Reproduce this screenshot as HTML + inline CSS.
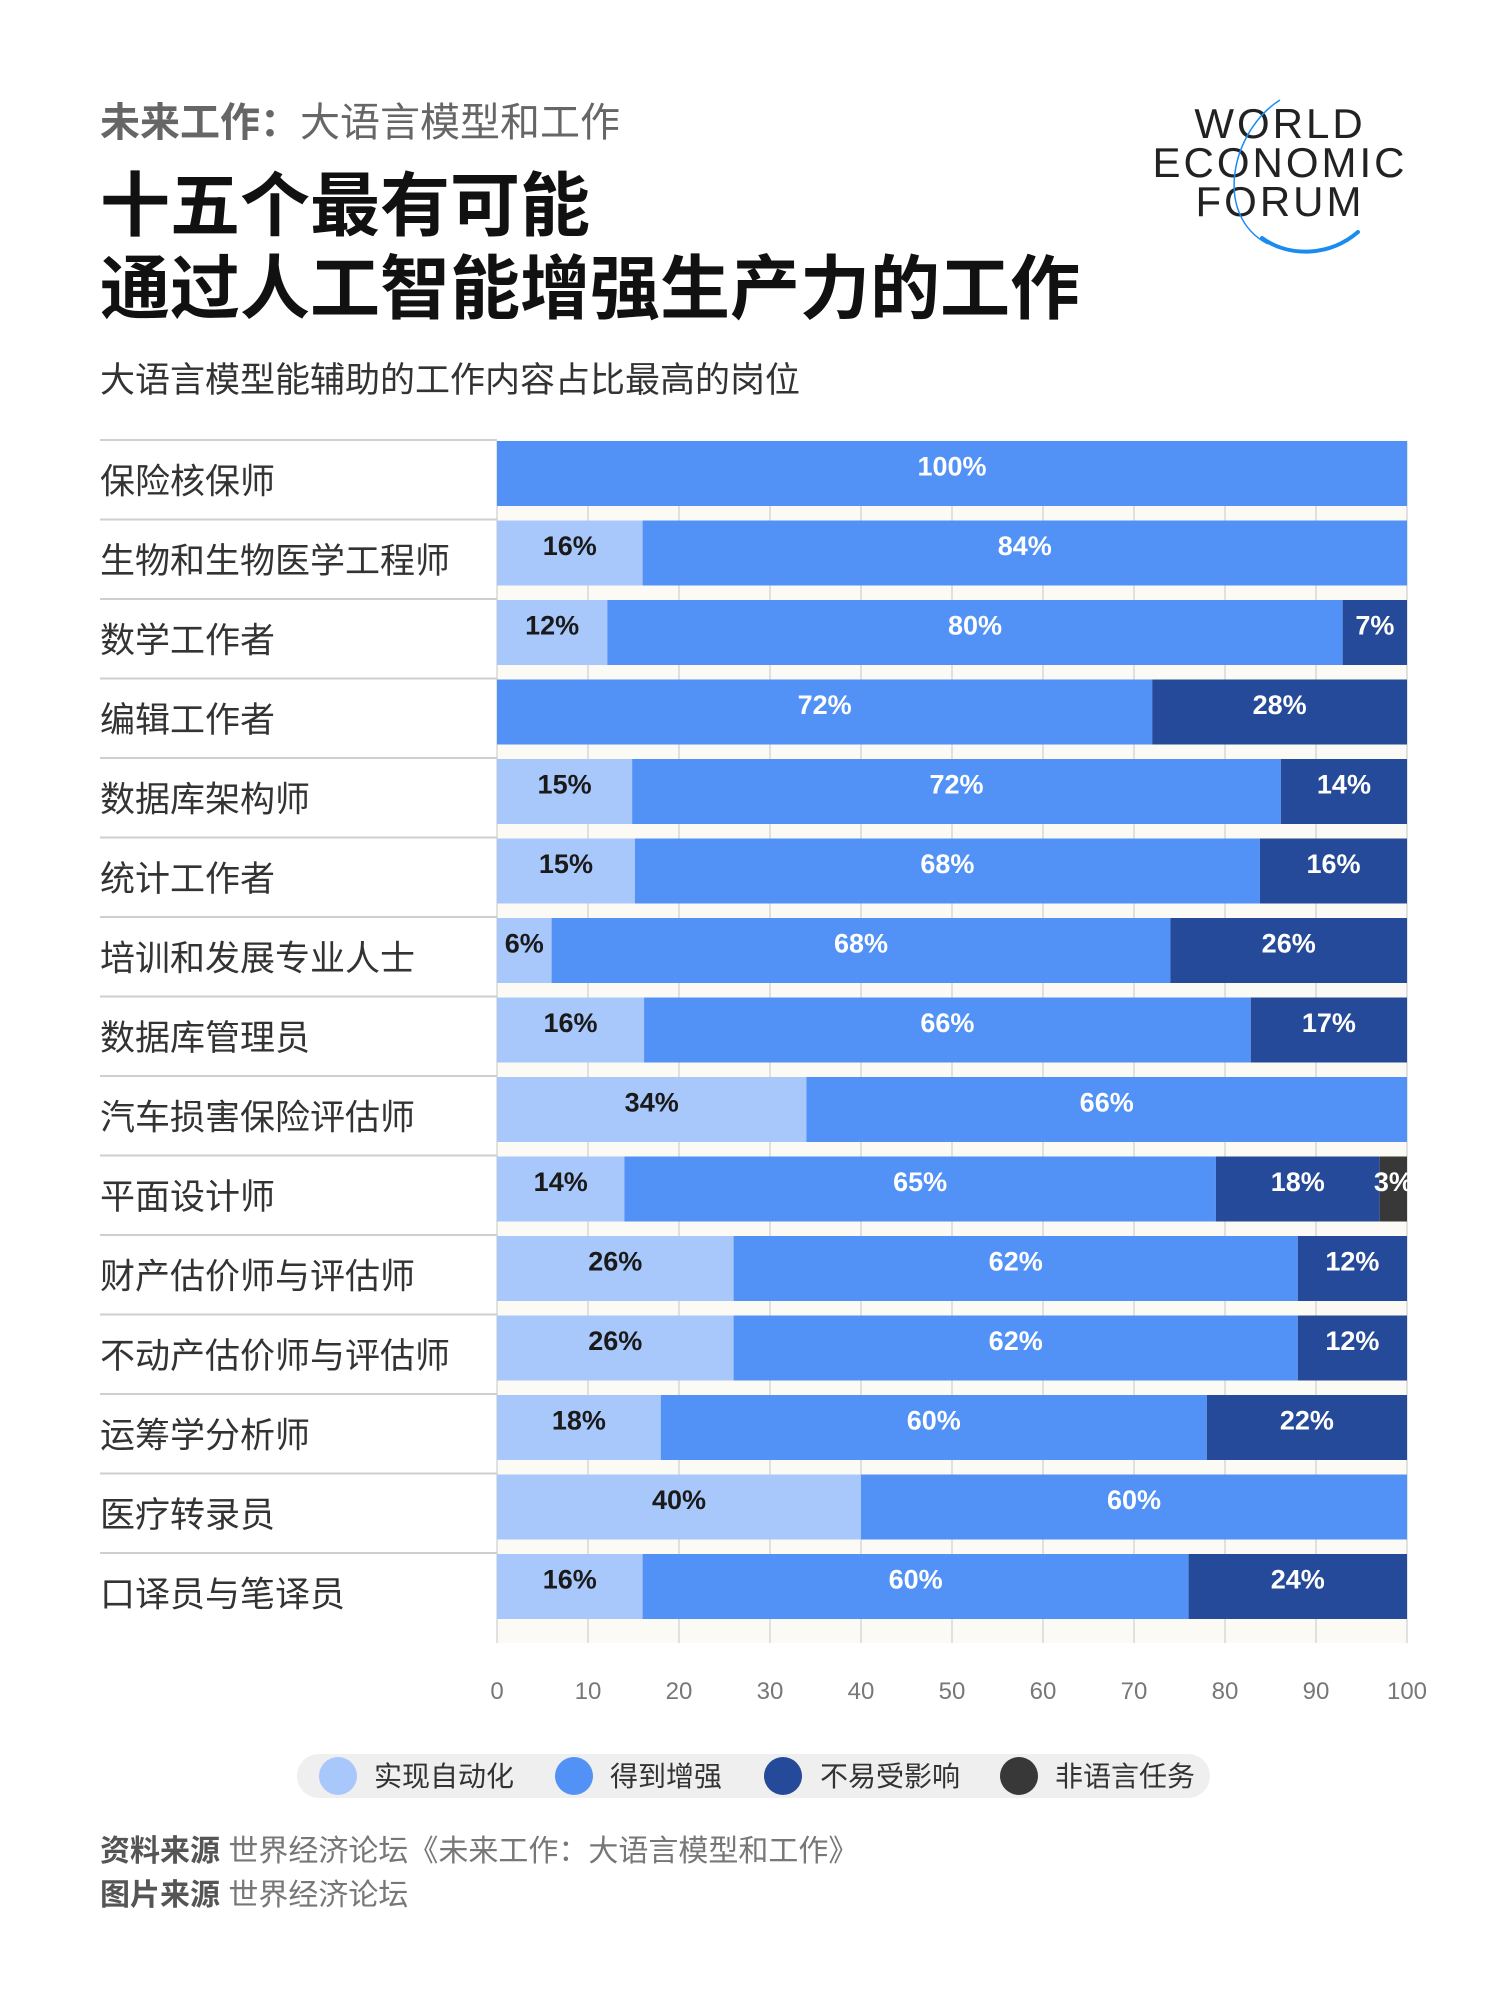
<!DOCTYPE html>
<html><head><meta charset="utf-8">
<style>
html,body{margin:0;padding:0;background:#fff;}
svg{display:block;}
text{font-family:"Liberation Sans","Noto Sans CJK SC",sans-serif;}
</style></head>
<body>
<svg id="chart" width="1500" height="2000" viewBox="0 0 1500 2000" xmlns="http://www.w3.org/2000/svg">
<rect width="1500" height="2000" fill="#fff"/>
<text x="100" y="136" font-size="40" fill="#666"><tspan font-weight="bold">未来工作：</tspan>大语言模型和工作</text>
<text x="100" y="230" font-size="70" font-weight="bold" fill="#111">十五个最有可能</text>
<text x="100" y="313" font-size="70" font-weight="bold" fill="#111">通过人工智能增强生产力的工作</text>
<text x="100" y="392" font-size="35" fill="#333">大语言模型能辅助的工作内容占比最高的岗位</text>
<g>
<text x="1280" y="138" font-size="42" text-anchor="middle" letter-spacing="3" fill="#222">WORLD</text>
<text x="1280" y="177" font-size="42" text-anchor="middle" letter-spacing="3" fill="#222">ECONOMIC</text>
<text x="1280" y="216" font-size="42" text-anchor="middle" letter-spacing="3" fill="#222">FORUM</text>
<path d="M1280,100 C1232,130 1212,215 1268,244" stroke="#1a8cf0" stroke-width="1.5" fill="none"/>
<path d="M1262,238 C1290,258 1330,256 1358,232" stroke="#1a8cf0" stroke-width="4" fill="none" stroke-linecap="round"/>
</g>
<g id="plot"></g>
<g>
<rect x="297" y="1754" width="913" height="44" rx="22" fill="#efefef"/>
<circle cx="338" cy="1776" r="19" fill="#a8c8fb"/>
<text x="374" y="1786" font-size="28" fill="#333">实现自动化</text>
<circle cx="574" cy="1776" r="19" fill="#5292f6"/>
<text x="610" y="1786" font-size="28" fill="#333">得到增强</text>
<circle cx="783" cy="1776" r="19" fill="#264a9a"/>
<text x="820" y="1786" font-size="28" fill="#333">不易受影响</text>
<circle cx="1019" cy="1776" r="19" fill="#383838"/>
<text x="1055" y="1786" font-size="28" fill="#333">非语言任务</text>
</g>
<text x="100" y="1861" font-size="30" fill="#777"><tspan font-weight="bold" fill="#555">资料来源</tspan> 世界经济论坛《未来工作：大语言模型和工作》</text>
<text x="100" y="1905" font-size="30" fill="#777"><tspan font-weight="bold" fill="#555">图片来源</tspan> 世界经济论坛</text>
</svg>
<script>
const categories = ["保险核保师","生物和生物医学工程师","数学工作者","编辑工作者","数据库架构师","统计工作者","培训和发展专业人士","数据库管理员","汽车损害保险评估师","平面设计师","财产估价师与评估师","不动产估价师与评估师","运筹学分析师","医疗转录员","口译员与笔译员"];
const automation   = [0,16,12,0,15,15,6,16,34,14,26,26,18,40,16];
const augmentation = [100,84,80,72,72,68,68,66,66,65,62,62,60,60,60];
const lowExposure  = [0,0,7,28,14,16,26,17,0,18,12,12,22,0,24];
const nonLanguage  = [0,0,0,0,0,0,0,0,0,3,0,0,0,0,0];
const ticks = [0,10,20,30,40,50,60,70,80,90,100];

const NS = "http://www.w3.org/2000/svg";
const plot = document.getElementById("plot");
const X0 = 497, X1 = 1407, TOP = 441, PITCH = 79.5, BH = 65, BOTTOM = 1643;
const x = v => X0 + (X1 - X0) * v / 100;
const yRow = i => TOP + i * PITCH;
function mk(tag, attrs){ const e = document.createElementNS(NS, tag); for (const k in attrs) e.setAttribute(k, attrs[k]); plot.appendChild(e); return e; }

const bg = mk("rect",{x:X0,y:TOP,width:X1-X0,height:BOTTOM-TOP,fill:"#fbfaf4"});


ticks.forEach(t => {
  const g = mk("line",{x1:x(t),x2:x(t),y1:TOP,y2:BOTTOM,stroke:"#d8d8d8","stroke-width":1.5});
  
  
  const tl = mk("text",{x:x(t),y:1699,"font-size":24,fill:"#777","text-anchor":"middle"});
  tl.textContent = t;
  
  
});

const series = [
  {vals:automation, fill:"#a8c8fb", tc:"#1a1a1a", name:"automation"},
  {vals:augmentation, fill:"#5292f6", tc:"#ffffff", name:"augmentation"},
  {vals:lowExposure, fill:"#264a9a", tc:"#ffffff", name:"low-exposure"},
  {vals:nonLanguage, fill:"#383838", tc:"#ffffff", name:"non-language"}
];

categories.forEach((c, i) => {
  const y0 = yRow(i);
  const sep = mk("line",{x1:100,x2:X0,y1:y0-1,y2:y0-1,stroke:"#cfcfcf","stroke-width":2});
  
  
  const lab = mk("text",{x:100,y:y0+BH/2+20,"font-size":35,fill:"#333"});
  lab.textContent = c;
  
  
  const total = series.reduce((s, se) => s + se.vals[i], 0) || 100;
  let cum = 0;
  series.forEach(se => {
    const v = se.vals[i];
    if (!v) return;
    const a = x(cum / total * 100), b = x((cum + v) / total * 100);
    const r = mk("rect",{x:a,y:y0,width:b-a,height:BH,fill:se.fill});
    
    
    const t = mk("text",{x:(a+b)/2,y:y0+BH/2+2,"font-size":27,"font-weight":"bold",fill:se.tc,"text-anchor":"middle"});
    t.textContent = v + "%";
    
    
    cum += v;
  });
});
</script>
</body></html>
